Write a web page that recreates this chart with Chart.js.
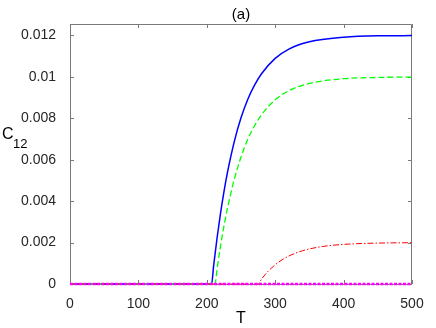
<!DOCTYPE html>
<html>
<head>
<meta charset="utf-8">
<script src="https://cdn.jsdelivr.net/npm/chart.js@4/dist/chart.umd.min.js"></script>
<style>
  html, body { margin: 0; padding: 0; background: #ffffff; }
  #wrap { width: 436px; height: 328px; position: relative; }
</style>
</head>
<body>
<div id="wrap"><canvas id="c" width="436" height="328"></canvas></div>
<script>
// ---- data ----
const chartTitle = "(a)";
const xAxisLabel = "T";
const yAxisLabelMain = "C";
const yAxisLabelSub = "12";

const xTickValues = [0, 100, 200, 300, 400, 500];
const yTickValues = [0, 0.002, 0.004, 0.006, 0.008, 0.01, 0.012];
const yTickLabels = ["0", "0.002", "0.004", "0.006", "0.008", "0.01", "0.012"];

const blueT = [0, 207, 210, 215, 220, 225, 230, 240, 250, 260, 270, 280, 300, 320, 350, 400, 450, 500];
const blueC = [0, 0, 0.00089, 0.00222, 0.00340, 0.00444, 0.00535, 0.00685, 0.00802, 0.00892, 0.00961, 0.01015, 0.01089, 0.01134, 0.01169, 0.01191, 0.01198, 0.01199];

const greenT = [0, 212, 215, 220, 225, 230, 240, 250, 260, 270, 280, 300, 320, 350, 400, 450, 500];
const greenC = [0, 0, 0.00072, 0.00181, 0.00278, 0.00362, 0.00503, 0.00613, 0.00699, 0.00765, 0.00817, 0.00889, 0.00933, 0.00968, 0.00991, 0.00997, 0.00999];

const redT = [0, 275, 280, 285, 290, 300, 310, 320, 330, 340, 350, 370, 400, 450, 500];
const redC = [0, 0, 0.000235, 0.000442, 0.000625, 0.000929, 0.001166, 0.001351, 0.001494, 0.001606, 0.001693, 0.001814, 0.001912, 0.001975, 0.001993];

const magentaT = [0, 500];
const magentaC = [0, 0];

const xMin = 0, xMax = 500;
const yMin = 0, yMax = 0.01255;

// ---- build ----
function pts(xs, ys) { return xs.map((x, i) => ({ x: x, y: ys[i] })); }

const FONT = "'Liberation Sans', Arial, Helvetica, sans-serif";
const TEXT = "#262626";
const AXIS = "#7a7a7a";

const frame = {
  id: 'frame',
  beforeDatasetsDraw(chart) {
    const { ctx, chartArea: a, scales } = chart;
    ctx.save();
    ctx.strokeStyle = AXIS;
    ctx.lineWidth = 1;
    ctx.beginPath();
    ctx.rect(Math.round(a.left) + 0.5, Math.round(a.top) + 0.5,
             Math.round(a.right - a.left) - 1, Math.round(a.bottom - a.top));
    ctx.stroke();
    const tl = 4;
    ctx.beginPath();
    xTickValues.forEach(v => {
      const px = Math.round(scales.x.getPixelForValue(v)) + 0.5;
      ctx.moveTo(px, a.bottom); ctx.lineTo(px, a.bottom - tl);
      ctx.moveTo(px, a.top); ctx.lineTo(px, a.top + tl);
    });
    yTickValues.forEach(v => {
      const py = Math.round(scales.y.getPixelForValue(v)) + 0.5;
      ctx.moveTo(a.left, py); ctx.lineTo(a.left + tl, py);
      ctx.moveTo(a.right, py); ctx.lineTo(a.right - tl, py);
    });
    ctx.stroke();
    ctx.restore();
  },
  afterDraw(chart) {
    const { ctx, chartArea: a } = chart;
    ctx.save();
    ctx.fillStyle = "#000000";
    ctx.textAlign = 'center';
    ctx.textBaseline = 'middle';
    ctx.font = "15px " + FONT;
    ctx.fillText(chartTitle, (a.left + a.right) / 2, 15);
    ctx.font = "16px " + FONT;
    ctx.fillText(xAxisLabel, (a.left + a.right) / 2, 319);
    ctx.textAlign = 'left';
    ctx.font = "16px " + FONT;
    ctx.fillText(yAxisLabelMain, 2, 135);
    ctx.font = "13px " + FONT;
    ctx.fillText(yAxisLabelSub, 13, 144);
    ctx.restore();
  }
};

new Chart(document.getElementById('c'), {
  type: 'line',
  data: {
    datasets: [
      { label: 'm', data: pts(magentaT, magentaC), borderColor: '#ff00ff', borderWidth: 2.5,
        borderDash: [3, 1.5], pointRadius: 0, order: 0, clip: 4 },
      { label: 'r', data: pts(redT, redC), borderColor: '#ff0000', borderWidth: 1,
        borderDash: [6, 2, 1.5, 2], pointRadius: 0, cubicInterpolationMode: 'monotone', order: 1, clip: 4 },
      { label: 'g', data: pts(greenT, greenC), borderColor: '#00ff00', borderWidth: 1.3,
        borderDash: [6, 3], pointRadius: 0, cubicInterpolationMode: 'monotone', order: 2, clip: 4 },
      { label: 'b', data: pts(blueT, blueC), borderColor: '#0000ff', borderWidth: 1.5,
        pointRadius: 0, cubicInterpolationMode: 'monotone', order: 3, clip: 4 }
    ]
  },
  options: {
    responsive: false,
    animation: false,
    devicePixelRatio: 1,
    layout: { padding: { left: 0, right: 24, top: 24, bottom: 0 } },
    plugins: { legend: { display: false }, tooltip: { enabled: false }, title: { display: false } },
    scales: {
      x: {
        type: 'linear', min: xMin, max: xMax,
        grid: { display: false }, border: { display: false },
        afterBuildTicks(s) { s.ticks = xTickValues.map(v => ({ value: v })); },
        afterFit(s) { s.height = 44; },
        ticks: { padding: 4, color: TEXT, font: { family: FONT, size: 14 }, maxRotation: 0,
                 callback: v => String(v) }
      },
      y: {
        type: 'linear', min: yMin, max: yMax,
        grid: { display: false }, border: { display: false },
        afterBuildTicks(s) { s.ticks = yTickValues.map(v => ({ value: v })); },
        afterFit(s) { s.width = 70; },
        ticks: { padding: 6, color: TEXT, font: { family: FONT, size: 14 },
                 callback: (v) => { const i = yTickValues.indexOf(v); return i >= 0 ? yTickLabels[i] : ''; } }
      }
    }
  },
  plugins: [frame]
});
</script>
</body>
</html>
